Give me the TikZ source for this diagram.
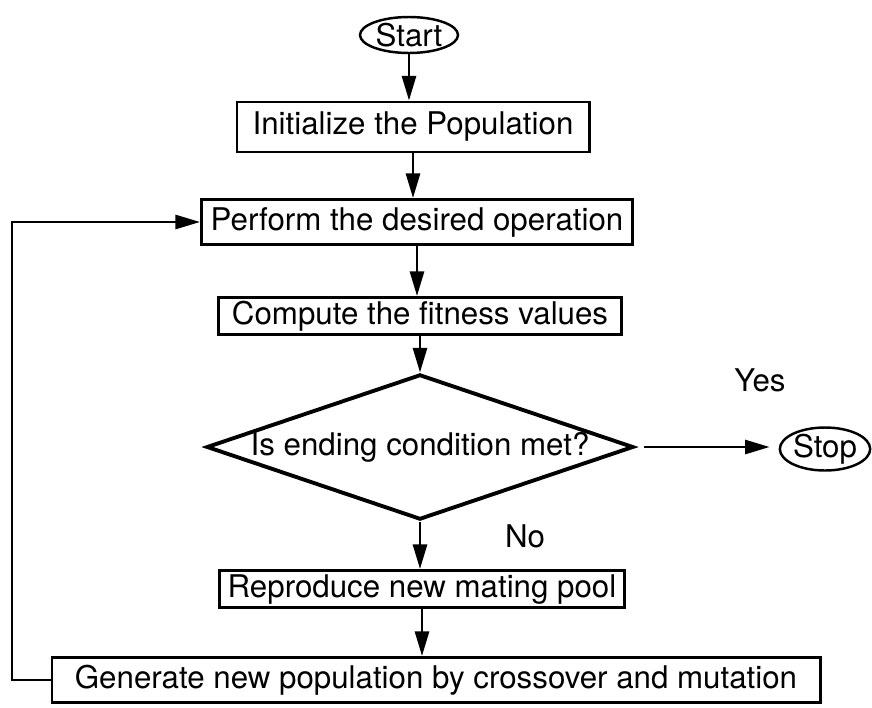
\documentclass[tikz,border=0pt]{standalone}
\usepackage{fontspec}
\setmainfont{TeX Gyre Heros}
\usetikzlibrary{arrows.meta, positioning, shapes.geometric}

\begin{document}
\begin{tikzpicture}[
    stepbox/.style={draw, line width=1.7pt, inner sep=0pt},            % Process boxes
    terminal/.style={ellipse, draw, line width=1.4pt, inner sep=0pt},  % Start / Stop
    decision/.style={diamond, draw, line width=2.2pt, inner sep=0pt, aspect=2.94},
    ->, line width=1.5pt, >={Triangle[length=14pt, width=8pt]},       % Arrows with long tips
    font=\fontsize{17.8}{21}\selectfont
]
\useasboundingbox (0,0) rectangle (17.44,-14.14);

% --- START AND STOP ---
\node[terminal, minimum width=1.96cm, minimum height=0.72cm] (start) at (8.18,-0.70) {Start};
\node[terminal, minimum width=1.80cm, minimum height=0.86cm] (stop) at (16.50,-8.98) {Stop};

% --- PROCESS STEPS ---
\node[stepbox, minimum width=7.04cm, minimum height=1.00cm] (init) at (8.26,-2.54) {Initialize the Population};
\node[stepbox, minimum width=8.62cm, minimum height=0.90cm] (perform) at (8.34,-4.44) {Perform the desired operation};
\node[stepbox, minimum width=8.06cm, minimum height=0.74cm] (fitness) at (8.40,-6.32) {Compute the fitness values};
\node[decision, minimum width=8.48cm, minimum height=2.88cm] (cond) at (8.40,-8.94) {Is ending condition met?};
\node[stepbox, minimum width=8.10cm, minimum height=0.74cm] (repro) at (8.44,-11.78) {Reproduce new mating pool};
\node[stepbox, minimum width=15.36cm, minimum height=0.90cm] (gen) at (8.72,-13.60) {Generate new population by crossover and mutation};

% --- BRANCH LABELS ---
\node (yes) at (15.20,-7.60) {Yes};
\node (no) at (10.50,-10.72) {No};

% --- MAIN FLOW ---
\draw (start.south) -- (start.south |- init.north);
\draw (init.south) -- (init.south |- perform.north);
\draw (perform.south) -- (perform.south |- fitness.north);
\draw (fitness.south) -- (cond.north);
\draw (cond.south) -- (cond.south |- repro.north);
\draw (repro.south) -- (repro.south |- gen.north);
\draw[shorten <=0.18cm, shorten >=0.18cm] (cond.east) -- (cond.east -| stop.west);  % Yes branch

% --- FEEDBACK LOOP ---
\coordinate (back) at (0.24,0);
\draw (gen.west) -- (back |- gen.west) -- (back |- perform.west) -- (perform.west);

\end{tikzpicture}
\end{document}
